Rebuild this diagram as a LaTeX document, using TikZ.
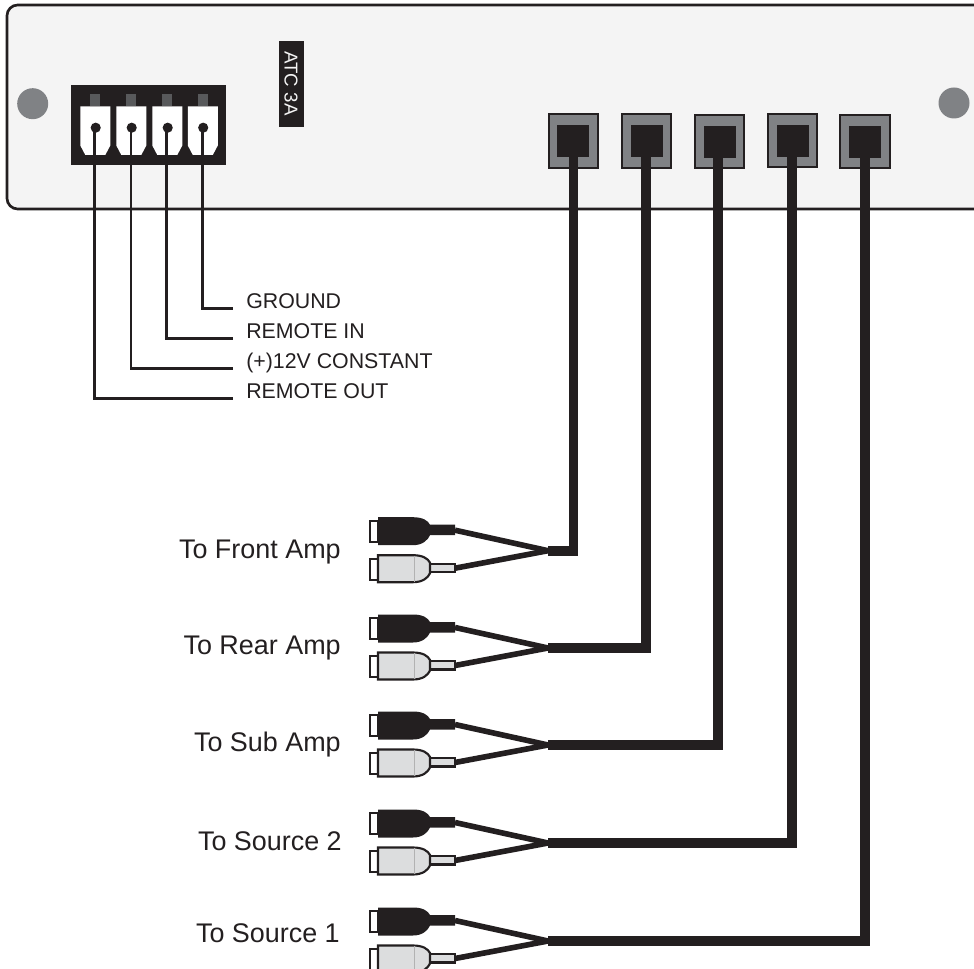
\documentclass[tikz,border=0pt]{standalone}
\usepackage{fontspec}
\setmainfont{Liberation Sans}
\usepackage{tikz}
\usetikzlibrary{positioning}
\usetikzlibrary{calc}

\definecolor{inkblack}{HTML}{231F20}
\definecolor{panelgray}{HTML}{F4F4F4}
\definecolor{jackgray}{HTML}{808285}
\definecolor{tabgray}{HTML}{58595B}
\definecolor{pluggray}{HTML}{DCDDDE}

\tikzset{
  thinwire/.style={draw=inkblack,line width=2.1pt,line join=miter},
  rcacable/.style={draw=inkblack,line width=7.2pt,line join=miter},
  rcabranch/.style={draw=inkblack,line width=4.2pt},
  holemark/.style={fill=jackgray,draw=none},
  smalltext/.style={anchor=base west,inner sep=0pt,font=\fontsize{16}{18}\selectfont,text=inkblack},
  bigtext/.style={anchor=base east,inner sep=0pt,font=\fontsize{20.2}{22}\selectfont,text=inkblack},
  dotnode/.style={circle,fill=inkblack,inner sep=0pt,minimum size=7.6pt},
  plugline/.style={draw=inkblack,line width=1.6pt},
}

\begin{document}
\begin{tikzpicture}[x=0.75pt,y=-0.75pt]
\useasboundingbox (0,0) rectangle (974,969);
\clip (0,0) rectangle (974,969);

% front panel
\draw[fill=panelgray,draw=inkblack,line width=2pt,rounded corners=8pt]
       (985,5) -- (7,5) -- (7,209) -- (985,209);
\fill[holemark] (32.7,103.7) circle (15.5);
\fill[holemark] (954,103) circle (15.5);

% fuse label
\fill[inkblack] (278.5,41) rectangle (304,126.7);
\node[rotate=-90,inner sep=0pt,text=panelgray,font=\fontsize{14}{16}\selectfont]
       (fuselabel) at (291,83.5) {ATC 3A};

% power terminal block
\fill[inkblack] (71,85) rectangle (226,165);
\foreach \name/\tx/\wx/\ly/\txt in {out/95.3/94.7/398.5/REMOTE OUT, con/131.3/131/368.5/(+)12V CONSTANT,
    rem/167.3/166.7/338.5/REMOTE IN, gnd/202.8/202.3/308.5/GROUND}
{
  \fill[tabgray] (\tx-5,94) rectangle (\tx+5,106);
  \fill[white] (\tx-15,106.3) -- (\tx+15,106.3) -- (\tx+15,145.5) -- (\tx+10,155)
        -- (\tx-10,155) -- (\tx-15,145.5) -- cycle;
  \node[dotnode] (dot\name) at (\tx+0.4,127.7) {};
  \coordinate (end\name) at (233,\ly);
  \draw[thinwire] (\wx,127.7) -- (\wx,\ly) -- (end\name);
  \node[smalltext] (lbl\name) at (246,\ly) {\txt};
}

% ports, cables and plugs
\foreach \name/\px/\cx/\pt/\cy/\txt/\tx/\ty in {
    front/573.2/573.5/113.3/550.7/To Front Amp/341/558.7,
    rear/646.6/646/113.3/648/To Rear Amp/341/654.7,
    sub/719.6/718/113.6/745/To Sub Amp/341/751.7,
    srctwo/792.6/792/112.7/843/To Source 2/342/850.7,
    srcone/865/865/114/941/To Source 1/340/942.7}
{
  \draw[fill=jackgray,draw=inkblack,line width=1.5pt] (\px-24.6,\pt+1) rectangle (\px+24.6,\pt+54.5);
  \fill[inkblack] (\px-16,\pt+12) rectangle (\px+16,\pt+44);
  \coordinate (port\name) at (\cx,\pt+30);
  \coordinate (fork\name) at (548,\cy);
  \draw[rcacable] (port\name) -- (\cx,\cy) -- (fork\name);
  \node[bigtext] (lbl\name) at (\tx,\ty) {\txt};

  \begin{scope}[shift={(fork\name)}]
    % black plug
    \draw[plugline,fill=white] (-178,-30) rectangle (-170,-9);
    \fill[inkblack] (-170,-33.5) -- (-135,-33.5) .. controls (-125,-33.5) and (-120,-30) .. (-118,-26)
          -- (-93,-26) -- (-93,-15.5) -- (-118,-15.5) .. controls (-120,-11) and (-125,-5.5) .. (-135,-5.5)
          -- (-170,-5.5) -- cycle;
    % grey plug
    \draw[plugline,fill=white] (-178,8) rectangle (-170,29);
    \draw[plugline,fill=pluggray] (-118,13) rectangle (-93,21.5);
    \draw[plugline,fill=pluggray] (-170,4.5) -- (-135,4.5) .. controls (-125,4.5) and (-120,8) .. (-118,12)
          -- (-118,22.5) .. controls (-120,27) and (-125,31.5) .. (-135,31.5)
          -- (-170,31.5) -- cycle;
    \draw[draw=gray!60,line width=0.5pt] (-134,5) -- (-134,31);
    % branches
    \draw[rcabranch] (-93,-20.5) -- (0,0);
    \draw[rcabranch] (-93,17.5) -- (0,0);
  \end{scope}
}
\end{tikzpicture}
\end{document}
